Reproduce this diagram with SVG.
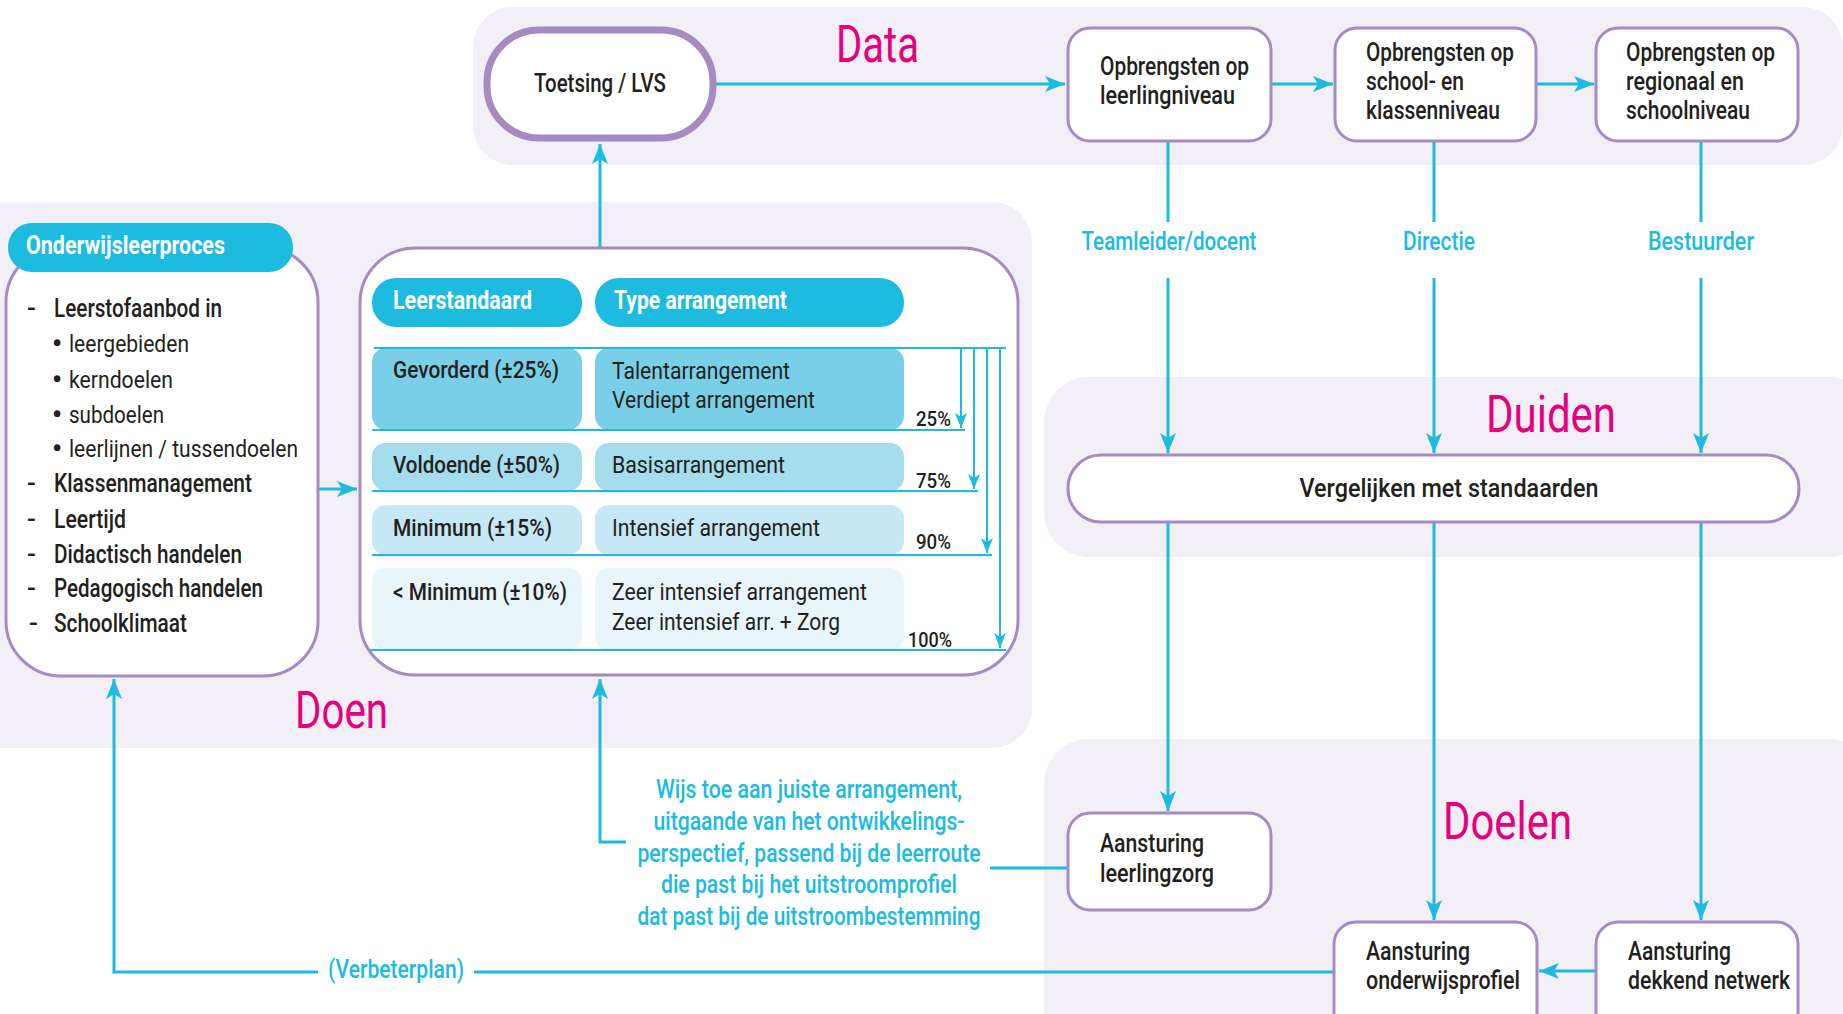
<svg xmlns="http://www.w3.org/2000/svg" width="1843" height="1014" viewBox="0 0 1843 1014">
<style>
.t{font-family:Roboto,"Liberation Sans",sans-serif;fill:#231F20;font-size:26px;font-weight:500}
.l{font-weight:400}
.s{font-size:24px}
.b{font-size:28px;font-weight:700}
.w{fill:#fff;font-weight:700;font-size:25px}
.c{font-family:Roboto,"Liberation Sans",sans-serif;fill:#1CBBDF;font-size:25px;font-weight:500}
.p{font-size:20px}
.title{font-family:Roboto,"Liberation Sans",sans-serif;fill:#E5007E;font-size:52px;font-weight:400}
.panel{fill:#F2EFF6}
.node{fill:#fff;stroke:#A68BC2;stroke-width:3}
.hdr{fill:#1CBBDF}
.con{fill:none;stroke:#1CBBDF;stroke-width:3}
.thin{fill:none;stroke:#1CBBDF;stroke-width:2}
</style>
<defs>
<marker id="ah" markerUnits="userSpaceOnUse" markerWidth="22" markerHeight="16" refX="20" refY="8" orient="auto"><path d="M0,0 L20,8 L0,16 L5,8 z" fill="#1CBBDF"/></marker>
<marker id="as" markerUnits="userSpaceOnUse" markerWidth="16" markerHeight="12" refX="15" refY="6" orient="auto"><path d="M0,0 L15,6 L0,12 L4,6 z" fill="#1CBBDF"/></marker>
</defs>
<rect width="1843" height="1014" fill="#fff"/>
<g id="panels">
<rect class="panel" x="473" y="7" width="1370" height="158" rx="40"/>
<rect class="panel" x="-40" y="202" width="1072" height="546" rx="40"/>
<rect class="panel" x="1044" y="377" width="830" height="180" rx="45"/>
<rect class="panel" x="1044" y="739" width="830" height="320" rx="45"/>
<text class="title" x="836" y="62" textLength="83" lengthAdjust="spacingAndGlyphs">Data</text>
<text class="title" x="295" y="728" textLength="93" lengthAdjust="spacingAndGlyphs">Doen</text>
<text class="title" x="1486" y="432" textLength="130" lengthAdjust="spacingAndGlyphs">Duiden</text>
<text class="title" x="1443" y="839" textLength="129" lengthAdjust="spacingAndGlyphs">Doelen</text>
</g>
<g id="connectors">
<path class="con" d="M716,84 H1065" marker-end="url(#ah)" stroke-width="3.5"/>
<path class="con" d="M1271,84 H1333" marker-end="url(#ah)" stroke-width="3.5"/>
<path class="con" d="M1537,84 H1594" marker-end="url(#ah)" stroke-width="3.5"/>
<path class="con" d="M1168,141 V222 M1434,141 V222 M1701,141 V222"/>
<path class="con" d="M1168,278 V453" marker-end="url(#ah)"/>
<path class="con" d="M1434,278 V453" marker-end="url(#ah)"/>
<path class="con" d="M1701,278 V453" marker-end="url(#ah)"/>
<path class="con" d="M1168,523 V811" marker-end="url(#ah)"/>
<path class="con" d="M1434,523 V920" marker-end="url(#ah)"/>
<path class="con" d="M1701,523 V920" marker-end="url(#ah)"/>
<path class="con" d="M1595,971 H1539" marker-end="url(#ah)" stroke-width="3.5"/>
<path class="con" d="M1333,972 H474" stroke-width="3.5"/>
<path class="con" d="M318,972 H114 V679" marker-end="url(#ah)"/>
<path class="con" d="M1067,868 H990" stroke-width="3.5"/>
<path class="con" d="M626,842 H600 V679" marker-end="url(#ah)"/>
<path class="con" d="M600,248 V144" marker-end="url(#ah)"/>
<path class="con" d="M318,489 H357" marker-end="url(#ah)" stroke-width="3.5"/>
<text class="c" x="1169" y="250" text-anchor="middle" textLength="175" lengthAdjust="spacingAndGlyphs">Teamleider/docent</text>
<text class="c" x="1439" y="250" text-anchor="middle" textLength="72" lengthAdjust="spacingAndGlyphs">Directie</text>
<text class="c" x="1701" y="250" text-anchor="middle" textLength="106" lengthAdjust="spacingAndGlyphs">Bestuurder</text>
<text class="c" x="396" y="978" text-anchor="middle" textLength="136" lengthAdjust="spacingAndGlyphs">(Verbeterplan)</text>
<g text-anchor="middle">
<text class="c" x="809" y="798" textLength="306" lengthAdjust="spacingAndGlyphs">Wijs toe aan juiste arrangement,</text>
<text class="c" x="809" y="830" textLength="311" lengthAdjust="spacingAndGlyphs">uitgaande van het ontwikkelings-</text>
<text class="c" x="809" y="862" textLength="343" lengthAdjust="spacingAndGlyphs">perspectief, passend bij de leerroute</text>
<text class="c" x="809" y="893" textLength="296" lengthAdjust="spacingAndGlyphs">die past bij het uitstroomprofiel</text>
<text class="c" x="809" y="925" textLength="343" lengthAdjust="spacingAndGlyphs">dat past bij de uitstroombestemming</text>
</g>
</g>
<g id="toetsing">
<rect x="487" y="30" width="226" height="108" rx="52" fill="#fff" stroke="#A68BC2" stroke-width="7"/>
<text class="t" x="600" y="92" text-anchor="middle" textLength="132" lengthAdjust="spacingAndGlyphs">Toetsing / LVS</text>
</g>
<g id="opbrengsten-leerling">
<rect class="node" x="1068" y="28" width="203" height="113" rx="22"/>
<text class="t" x="1100" y="75" textLength="149" lengthAdjust="spacingAndGlyphs">Opbrengsten op</text>
<text class="t" x="1100" y="104" textLength="135" lengthAdjust="spacingAndGlyphs">leerlingniveau</text>
</g>
<g id="opbrengsten-school">
<rect class="node" x="1335" y="28" width="201" height="113" rx="22"/>
<text class="t" x="1366" y="61" textLength="148" lengthAdjust="spacingAndGlyphs">Opbrengsten op</text>
<text class="t" x="1366" y="90" textLength="98" lengthAdjust="spacingAndGlyphs">school- en</text>
<text class="t" x="1366" y="119" textLength="134" lengthAdjust="spacingAndGlyphs">klassenniveau</text>
</g>
<g id="opbrengsten-regionaal">
<rect class="node" x="1596" y="28" width="202" height="113" rx="22"/>
<text class="t" x="1626" y="61" textLength="149" lengthAdjust="spacingAndGlyphs">Opbrengsten op</text>
<text class="t" x="1626" y="90" textLength="118" lengthAdjust="spacingAndGlyphs">regionaal en</text>
<text class="t" x="1626" y="119" textLength="124" lengthAdjust="spacingAndGlyphs">schoolniveau</text>
</g>
<g id="vergelijken">
<rect class="node" x="1068" y="455" width="731" height="67" rx="33"/>
<text class="t" x="1449" y="497" text-anchor="middle" textLength="299" lengthAdjust="spacingAndGlyphs">Vergelijken met standaarden</text>
</g>
<g id="onderwijsleerproces">
<rect class="node" x="6" y="247" width="312" height="429" rx="55"/>
<rect class="hdr" x="8" y="223" width="285" height="49" rx="24"/>
<text class="t w" x="26" y="254" textLength="199" lengthAdjust="spacingAndGlyphs">Onderwijsleerproces</text>
<g class="t">
<text x="27" y="317">-</text><text x="54" y="317" textLength="168" lengthAdjust="spacingAndGlyphs">Leerstofaanbod in</text>
<text class="b" x="52" y="353">•</text><text class="l s" x="69" y="352" textLength="120" lengthAdjust="spacingAndGlyphs">leergebieden</text>
<text class="b" x="52" y="389">•</text><text class="l s" x="69" y="388" textLength="104" lengthAdjust="spacingAndGlyphs">kerndoelen</text>
<text class="b" x="52" y="424">•</text><text class="l s" x="69" y="423" textLength="95" lengthAdjust="spacingAndGlyphs">subdoelen</text>
<text class="b" x="52" y="458">•</text><text class="l s" x="69" y="457" textLength="229" lengthAdjust="spacingAndGlyphs">leerlijnen / tussendoelen</text>
<text x="27" y="492">-</text><text x="54" y="492" textLength="198" lengthAdjust="spacingAndGlyphs">Klassenmanagement</text>
<text x="27" y="528">-</text><text x="54" y="528" textLength="72" lengthAdjust="spacingAndGlyphs">Leertijd</text>
<text x="27" y="563">-</text><text x="54" y="563" textLength="188" lengthAdjust="spacingAndGlyphs">Didactisch handelen</text>
<text x="27" y="597">-</text><text x="54" y="597" textLength="209" lengthAdjust="spacingAndGlyphs">Pedagogisch handelen</text>
<text x="29" y="632">-</text><text x="54" y="632" textLength="133" lengthAdjust="spacingAndGlyphs">Schoolklimaat</text>
</g>
</g>
<g id="arrangementen">
<rect class="node" x="360" y="248" width="658" height="427" rx="55"/>
<rect class="hdr" x="372" y="278" width="210" height="49" rx="24"/>
<rect class="hdr" x="595" y="278" width="309" height="49" rx="24"/>
<text class="t w" x="393" y="309" textLength="139" lengthAdjust="spacingAndGlyphs">Leerstandaard</text>
<text class="t w" x="614" y="309" textLength="173" lengthAdjust="spacingAndGlyphs">Type arrangement</text>
<rect x="372" y="348" width="210" height="82" rx="14" fill="#79CFE7"/>
<rect x="595" y="348" width="309" height="82" rx="14" fill="#79CFE7"/>
<rect x="372" y="443" width="210" height="48" rx="14" fill="#A5DCEE"/>
<rect x="595" y="443" width="309" height="48" rx="14" fill="#A5DCEE"/>
<rect x="372" y="505" width="210" height="50" rx="14" fill="#C5E8F4"/>
<rect x="595" y="505" width="309" height="50" rx="14" fill="#C5E8F4"/>
<rect x="372" y="568" width="210" height="82" rx="14" fill="#E8F6FB"/>
<rect x="595" y="568" width="309" height="82" rx="14" fill="#E8F6FB"/>
<path class="thin" d="M374,348 H1006 M372,430 H965 M372,491 H978 M372,555 H992 M370,650 H1006"/>
<path class="thin" d="M961,348 V428" marker-end="url(#as)"/>
<path class="thin" d="M974,348 V489" marker-end="url(#as)"/>
<path class="thin" d="M987,348 V553" marker-end="url(#as)"/>
<path class="thin" d="M1000,348 V648" marker-end="url(#as)"/>
<g class="t s">
<text x="393" y="378" textLength="166" lengthAdjust="spacingAndGlyphs">Gevorderd (±25%)</text>
<text x="393" y="473" textLength="167" lengthAdjust="spacingAndGlyphs">Voldoende (±50%)</text>
<text x="393" y="536" textLength="159" lengthAdjust="spacingAndGlyphs">Minimum (±15%)</text>
<text x="393" y="600" textLength="174" lengthAdjust="spacingAndGlyphs">&lt; Minimum (±10%)</text>
</g>
<g class="t s l">
<text x="612" y="379" textLength="178" lengthAdjust="spacingAndGlyphs">Talentarrangement</text>
<text x="612" y="408" textLength="203" lengthAdjust="spacingAndGlyphs">Verdiept arrangement</text>
<text x="612" y="473" textLength="173" lengthAdjust="spacingAndGlyphs">Basisarrangement</text>
<text x="612" y="536" textLength="208" lengthAdjust="spacingAndGlyphs">Intensief arrangement</text>
<text x="612" y="600" textLength="255" lengthAdjust="spacingAndGlyphs">Zeer intensief arrangement</text>
<text x="612" y="630" textLength="228" lengthAdjust="spacingAndGlyphs">Zeer intensief arr. + Zorg</text>
</g>
<g class="t p">
<text x="916" y="426" textLength="35" lengthAdjust="spacingAndGlyphs">25%</text>
<text x="916" y="488" textLength="35" lengthAdjust="spacingAndGlyphs">75%</text>
<text x="916" y="549" textLength="35" lengthAdjust="spacingAndGlyphs">90%</text>
<text x="908" y="647" textLength="44" lengthAdjust="spacingAndGlyphs">100%</text>
</g>
</g>
<g id="aansturing-leerlingzorg">
<rect class="node" x="1068" y="813" width="203" height="97" rx="22"/>
<text class="t" x="1100" y="852" textLength="104" lengthAdjust="spacingAndGlyphs">Aansturing</text>
<text class="t" x="1100" y="882" textLength="114" lengthAdjust="spacingAndGlyphs">leerlingzorg</text>
</g>
<g id="aansturing-onderwijsprofiel">
<rect class="node" x="1334" y="922" width="203" height="120" rx="22"/>
<text class="t" x="1366" y="960" textLength="104" lengthAdjust="spacingAndGlyphs">Aansturing</text>
<text class="t" x="1366" y="989" textLength="154" lengthAdjust="spacingAndGlyphs">onderwijsprofiel</text>
</g>
<g id="aansturing-dekkend-netwerk">
<rect class="node" x="1596" y="922" width="202" height="120" rx="22"/>
<text class="t" x="1628" y="960" textLength="103" lengthAdjust="spacingAndGlyphs">Aansturing</text>
<text class="t" x="1628" y="989" textLength="162" lengthAdjust="spacingAndGlyphs">dekkend netwerk</text>
</g>
</svg>
